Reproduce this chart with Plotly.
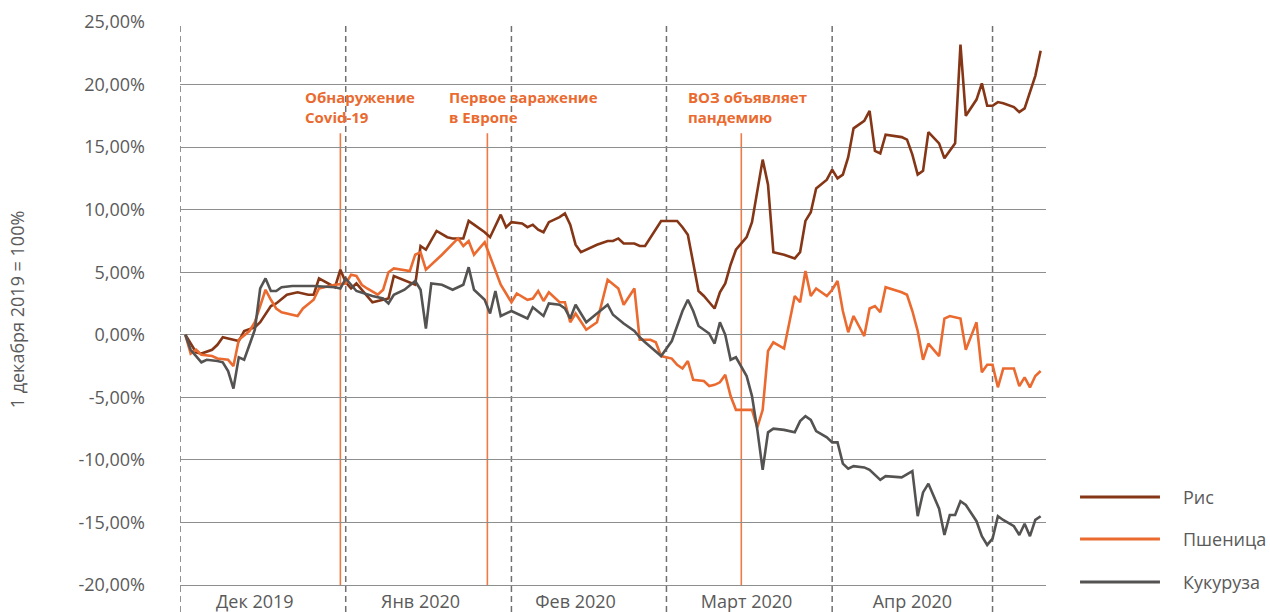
import plotly.graph_objects as go
from datetime import datetime, timedelta

# ---------------- data (days after 1 Dec 2019, % change vs 1 Dec 2019) ----------------
rice_days = [1, 3, 4, 6, 7, 8, 9, 11, 12, 14,
             15, 17, 18, 20, 22, 24, 25, 26, 29, 30,
             31, 32, 33, 36, 39, 40, 44, 45, 46, 48,
             50, 51, 53, 54, 55, 57, 58, 60, 61, 62,
             64, 65, 66, 67, 68, 69, 71, 72, 73, 74,
             75, 76, 78, 80, 81, 82, 83, 85, 86, 87,
             89, 90, 92, 93, 94, 95, 97, 98, 99, 100,
             101, 102, 103, 104, 105, 106, 107, 108, 109, 110,
             111, 113, 115, 116, 117, 118, 119, 121, 122, 123,
             124, 125, 126, 128, 129, 130, 131, 132, 135, 136,
             137, 138, 139, 140, 142, 143, 145, 146, 147, 149,
             150, 151, 152, 153, 154, 156, 157, 158, 159, 160,
             161]
rice_vals = [0.0, -1.4, -1.5, -1.2, -0.8, -0.2, -0.3, -0.5, 0.3, 0.6,
             1.0, 2.3, 2.5, 3.2, 3.4, 3.2, 3.2, 4.5, 3.8, 5.2,
             4.2, 3.7, 4.1, 2.6, 2.9, 4.7, 4.0, 7.1, 6.8, 8.3,
             7.8, 7.7, 7.7, 9.1, 8.8, 8.2, 7.8, 9.6, 8.6, 9.0,
             8.9, 8.6, 8.8, 8.4, 8.2, 9.0, 9.4, 9.7, 8.8, 7.2,
             6.6, 6.8, 7.2, 7.5, 7.5, 7.7, 7.3, 7.3, 7.1, 7.1,
             8.5, 9.1, 9.1, 9.1, 8.6, 8.0, 3.5, 3.1, 2.6, 2.1,
             3.4, 4.1, 5.6, 6.8, 7.3, 7.8, 9.0, 11.6, 14.0, 12.0,
             6.6, 6.4, 6.1, 6.6, 9.1, 9.8, 11.7, 12.4, 13.2, 12.5,
             12.8, 14.2, 16.5, 17.1, 17.9, 14.7, 14.5, 16.0, 15.8, 15.6,
             14.4, 12.8, 13.1, 16.2, 15.3, 14.1, 15.3, 23.2, 17.5, 18.8,
             20.1, 18.3, 18.3, 18.6, 18.5, 18.2, 17.8, 18.1, 19.5, 20.7,
             22.7]

wheat_days = [1, 2, 3, 4, 6, 7, 9, 10, 11, 13,
              14, 16, 17, 18, 19, 22, 23, 25, 26, 29,
              31, 32, 33, 34, 35, 37, 38, 39, 40, 43,
              44, 45, 46, 49, 52, 53, 54, 55, 57, 58,
              59, 60, 61, 62, 63, 65, 66, 67, 68, 69,
              71, 72, 73, 74, 76, 78, 80, 82, 83, 85,
              86, 88, 89, 90, 92, 93, 94, 95, 96, 98,
              99, 100, 101, 102, 103, 104, 107, 108, 109, 110,
              111, 113, 115, 116, 117, 118, 119, 121, 122, 123,
              124, 125, 126, 128, 129, 130, 131, 132, 135, 136,
              137, 138, 139, 140, 142, 143, 144, 146, 147, 149,
              150, 151, 152, 153, 154, 156, 157, 158, 159, 160,
              161]
wheat_vals = [0.0, -1.5, -1.2, -1.6, -1.7, -1.9, -2.0, -2.5, -0.4, 0.3,
              1.0, 3.6, 2.8, 2.1, 1.8, 1.5, 2.1, 2.8, 3.7, 4.0,
              4.1, 4.8, 4.7, 4.0, 3.7, 3.2, 3.6, 5.0, 5.3, 5.1,
              6.4, 6.6, 5.2, 6.4, 7.7, 7.1, 7.5, 6.4, 7.4, 6.3,
              5.2, 4.0, 3.3, 2.6, 3.3, 2.8, 2.9, 3.5, 2.7, 3.4,
              2.6, 2.6, 1.0, 1.7, 0.4, 1.0, 4.4, 3.7, 2.4, 3.7,
              -0.4, -0.4, -0.6, -1.7, -1.9, -2.4, -2.7, -2.1, -3.6, -3.7,
              -4.1, -4.0, -3.8, -3.2, -4.9, -6.0, -6.0, -7.4, -6.0, -1.3,
              -0.6, -1.1, 3.1, 2.6, 5.1, 3.1, 3.7, 3.1, 3.6, 4.3,
              1.9, 0.2, 1.5, -0.1, 2.1, 2.3, 1.8, 3.8, 3.4, 3.2,
              1.9, 0.3, -2.0, -0.7, -1.7, 1.3, 1.5, 1.3, -1.2, 1.0,
              -3.0, -2.4, -2.4, -4.2, -2.7, -2.7, -4.1, -3.4, -4.2, -3.3,
              -2.9]

corn_days = [1, 2, 4, 5, 7, 8, 9, 10, 11, 12,
             14, 15, 16, 17, 18, 19, 21, 25, 29, 30,
             31, 33, 36, 38, 39, 40, 42, 44, 45, 46,
             47, 49, 51, 53, 54, 55, 57, 58, 59, 60,
             62, 63, 65, 66, 68, 69, 71, 72, 73, 74,
             76, 78, 80, 81, 83, 85, 86, 87, 89, 90,
             92, 93, 94, 95, 96, 97, 99, 100, 101, 102,
             103, 104, 105, 106, 107, 108, 109, 110, 111, 113,
             115, 116, 117, 118, 119, 121, 122, 123, 124, 125,
             126, 128, 129, 131, 132, 135, 137, 138, 139, 140,
             142, 143, 144, 145, 146, 147, 149, 150, 151, 152,
             153, 154, 156, 157, 158, 159, 160, 161]
corn_vals = [0.0, -1.2, -2.2, -2.0, -2.1, -2.2, -2.9, -4.3, -1.8, -2.0,
             0.4, 3.7, 4.5, 3.5, 3.5, 3.8, 3.9, 3.9, 3.8, 3.7,
             4.5, 3.5, 3.1, 2.9, 2.5, 3.2, 3.6, 4.3, 3.6, 0.5,
             4.1, 4.0, 3.6, 4.0, 5.4, 3.6, 2.8, 1.7, 3.5, 1.5,
             1.9, 1.7, 1.3, 2.2, 1.5, 2.5, 2.4, 2.1, 1.3, 2.4,
             1.0, 1.7, 2.4, 1.6, 0.9, 0.3, -0.2, -0.6, -1.3, -1.7,
             -0.5, 0.7, 1.9, 2.8, 1.9, 0.7, 0.1, -0.7, 1.0, 0.0,
             -2.0, -1.8, -2.5, -3.3, -4.9, -7.6, -10.8, -7.8, -7.5, -7.6,
             -7.8, -6.9, -6.5, -6.8, -7.7, -8.2, -8.6, -8.6, -10.3, -10.7,
             -10.5, -10.6, -10.8, -11.6, -11.3, -11.4, -10.9, -14.5, -12.6, -11.9,
             -13.9, -16.0, -14.4, -14.4, -13.3, -13.6, -14.9, -16.1, -16.8, -16.3,
             -14.5, -14.8, -15.3, -16.0, -15.1, -16.1, -14.8, -14.5]

series_names = ["Рис", "Пшеница", "Кукуруза"]
series_colors = ["#853616", "#EA6A2F", "#555352"]

month_starts = ["2019-12-01", "2020-01-01", "2020-02-01", "2020-03-01", "2020-04-01", "2020-05-01"]
month_label_pos = ["2019-12-15", "2020-01-15", "2020-02-13", "2020-03-16", "2020-04-16"]
month_labels = ["Дек 2019", "Янв 2020", "Фев 2020", "Март 2020", "Апр 2020"]

event_dates = ["2019-12-31", "2020-01-27 12:00", "2020-03-15"]
event_text_pos = ["2019-12-24", "2020-01-20", "2020-03-04 16:00"]
event_texts = ["Обнаружение<br>Covid-19", "Первое заражение<br>в Европе", "ВОЗ объявляет<br>пандемию"]

y_ticks = [-20, -15, -10, -5, 0, 5, 10, 15, 20, 25]
y_ticktext = ["-20,00%", "-15,00%", "-10,00%", "-5,00%", "0,00%", "5,00%", "10,00%", "15,00%", "20,00%", "25,00%"]

START = datetime(2019, 12, 1)


def to_dates(days):
    return [START + timedelta(days=d) for d in days]


GRID = "#8e8e8e"
TEXT = "#5a5a5a"
FONT = "Open Sans"

fig = go.Figure()
all_series = [(rice_days, rice_vals), (wheat_days, wheat_vals), (corn_days, corn_vals)]
for (d, v), name, col in zip(all_series, series_names, series_colors):
    fig.add_trace(go.Scatter(x=to_dates(d), y=v, mode="lines", name=name,
                             line=dict(color=col, width=2.6), showlegend=False))

shapes = []
for m in month_starts:
    shapes.append(dict(type="line", xref="x", yref="paper", x0=m, x1=m, y0=-0.048, y1=1,
                       line=dict(color="#707070", width=1.5, dash="6px,4px"), layer="below"))
for e in event_dates:
    shapes.append(dict(type="line", xref="x", yref="y", x0=e, x1=e, y0=-20, y1=16.1,
                       line=dict(color="#EE7A45", width=1.6), layer="below"))

annotations = []
for pos, txt in zip(event_text_pos, event_texts):
    annotations.append(dict(x=pos, y=18.2, xref="x", yref="y", text="<b>" + txt + "</b>",
                            showarrow=False, xanchor="left", yanchor="middle", align="left",
                            font=dict(family=FONT, size=15, color="#EA6A2F")))

annotations.append(dict(x=-0.188, y=0.49, xref="paper", yref="paper", text="1 декабря 2019 = 100%",
                        textangle=-90, showarrow=False, xanchor="center", yanchor="middle",
                        font=dict(family=FONT, size=18, color=TEXT)))

# manual legend (long sample lines as in the original)
legend_y = [0.1563, 0.0817, 0.0053]
for name, col, ly in zip(series_names, series_colors, legend_y):
    shapes.append(dict(type="line", xref="paper", yref="paper", x0=1.0393, x1=1.1316, y0=ly, y1=ly,
                       line=dict(color=col, width=3)))
    annotations.append(dict(x=1.156, y=ly, xref="paper", yref="paper", text=name, showarrow=False,
                            xanchor="left", yanchor="middle",
                            font=dict(family=FONT, size=18, color=TEXT)))

fig.update_layout(
    width=1270, height=612,
    margin=dict(l=180, r=224, t=22, b=27, autoexpand=False),
    paper_bgcolor="white", plot_bgcolor="white",
    font=dict(family=FONT, size=18, color=TEXT),
    shapes=shapes, annotations=annotations,
    showlegend=False,
    hovermode=False,
)
fig.update_xaxes(type="date", range=["2019-12-01", "2020-05-11"],
                 tickvals=month_label_pos, ticktext=month_labels,
                 showgrid=False, zeroline=False, ticks="", automargin=False,
                 showline=True, linecolor=GRID, linewidth=1.4,
                 tickfont=dict(family=FONT, size=18, color=TEXT))
fig.update_yaxes(range=[-20, 25], tickvals=y_ticks, ticktext=y_ticktext,
                 showgrid=True, gridcolor=GRID, gridwidth=1.4, automargin=False,
                 zeroline=False, showline=False, ticks="",
                 ticklabelstandoff=34,
                 tickfont=dict(family=FONT, size=18, color=TEXT))

fig.write_html("out.html", config={"displayModeBar": False},
               post_script="document.body.style.margin='0px';document.body.style.overflow='hidden';")
